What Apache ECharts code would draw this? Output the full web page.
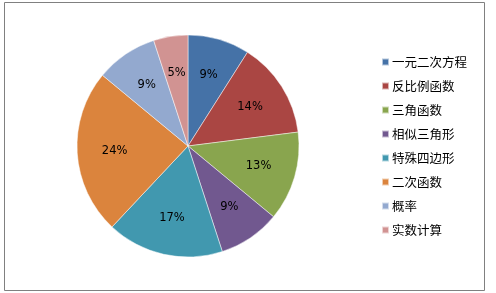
<!DOCTYPE html>
<html>
<head>
<meta charset="utf-8">
<script src="https://cdn.jsdelivr.net/npm/echarts@6/dist/echarts.min.js"></script>
<style>
html,body{margin:0;padding:0;background:#fff;}
#main{width:496px;height:293px;}
</style>
</head>
<body>
<div id="main"></div>
<script>
var categories = ['一元二次方程','反比例函数','三角函数','相似三角形','特殊四边形','二次函数','概率','实数计算'];
var values = [9, 14, 13, 9, 17, 24, 9, 5];
var colors = ['#4572A7','#AA4643','#89A54E','#71588F','#4198AF','#DB843D','#93A9CF','#D19392'];

var data = categories.map(function(c, i){ return {name: c, value: values[i]}; });
var chart = echarts.init(document.getElementById('main'), null, {renderer:'canvas'});
chart.setOption({
  animation: false,
  color: colors,
  graphic: [{
    type: 'rect', z: -1,
    shape: {x: 4.5, y: 2.5, width: 480, height: 288},
    style: {fill: '#fff', stroke: '#808080', lineWidth: 1}
  }],
  legend: {
    orient: 'vertical',
    left: 376, top: 50,
    itemWidth: 7, itemHeight: 7,
    itemGap: 10,
    icon: 'rect',
    data: categories,
    textStyle: {fontSize: 12.5, color: '#000', fontFamily: 'Noto Sans CJK SC', lineHeight: 14, padding: [0,0,0,-2]}
  },
  series: [{
    type: 'pie',
    center: [188, 146],
    radius: [0, 111],
    startAngle: 90,
    clockwise: true,
    label: {show: false},
    labelLine: {show: false},
    itemStyle: {borderColor: 'rgba(255,255,255,0.6)', borderWidth: 0.8},
    emphasis: {disabled: true},
    data: data
  },{
    type: 'pie',
    center: [188, 146],
    radius: [30, 111],
    startAngle: 90,
    clockwise: true,
    silent: true,
    itemStyle: {color: 'rgba(0,0,0,0)'},
    label: {show: true, position: 'inside', formatter: '{d}%', color: '#000', fontSize: 11.5, fontFamily: 'DejaVu Sans'},
    labelLine: {show: false},
    emphasis: {disabled: true},
    legendHoverLink: false,
    data: data.map(function(d){ return {name: d.name + ' ', value: d.value}; })
  }]
});
</script>
</body>
</html>
